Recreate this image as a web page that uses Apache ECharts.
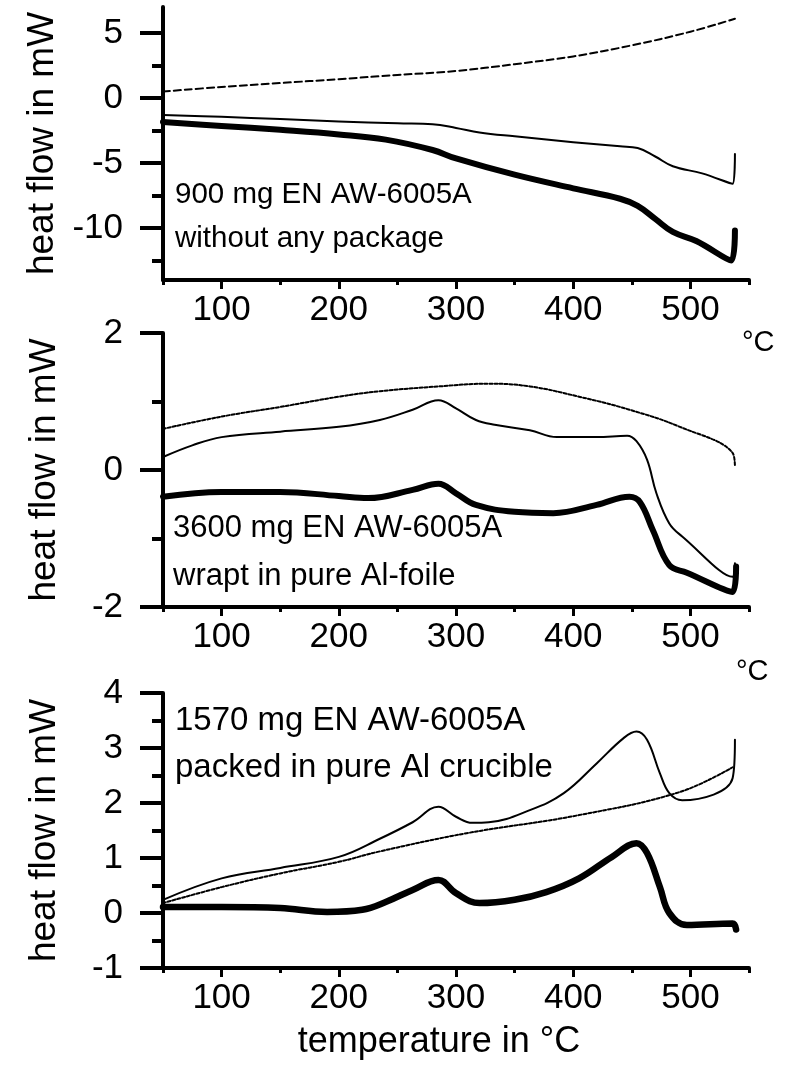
<!DOCTYPE html>
<html>
<head>
<meta charset="utf-8">
<script src="https://cdn.jsdelivr.net/npm/echarts@6/dist/echarts.min.js"></script>
<style>
html,body{margin:0;padding:0;background:#fff;}
#chart{width:785px;height:1070px;}
</style>
</head>
<body>
<div id="chart"></div>
<script>
// ---------- data (temperature °C, heat flow mW) ----------
const p1Dashed = [[50,0.5],[100,0.85],[150,1.15],[200,1.45],[250,1.77],[300,2.08],[350,2.6],[400,3.2],[450,4.05],[500,5.1],[538,6.1]];
const p1Thin = [[50,-1.3],[100,-1.45],[150,-1.62],[200,-1.8],[250,-1.95],[280,-2.02],[300,-2.3],[320,-2.65],[350,-2.95],[400,-3.4],[440,-3.72],[455,-3.85],[470,-4.5],[485,-5.25],[510,-5.8],[536,-6.6],[538,-4.3]];
const p1Thick = [[50,-1.85],[100,-2.15],[150,-2.45],[200,-2.8],[240,-3.2],[280,-4.0],[300,-4.65],[350,-5.9],[400,-6.95],[440,-7.75],[455,-8.3],[470,-9.3],[485,-10.3],[505,-11.0],[535,-12.5],[538,-10.2]];

const p2Dashed = [[50,0.6],[100,0.78],[150,0.92],[200,1.07],[235,1.15],[285,1.22],[328,1.26],[363,1.22],[405,1.07],[448,0.88],[491,0.63],[536,0.25],[538,0.05]];
const p2Thin = [[50,0.19],[75,0.36],[100,0.48],[150,0.56],[200,0.63],[235,0.73],[263,0.88],[285,1.02],[300,0.9],[317,0.73],[333,0.66],[363,0.58],[386,0.48],[420,0.48],[446,0.5],[454,0.42],[463,0.15],[471,-0.34],[482,-0.78],[493,-0.97],[536,-1.56],[538,-1.36]];
const p2Thick = [[50,-0.39],[100,-0.32],[150,-0.32],[200,-0.38],[225,-0.41],[263,-0.29],[285,-0.2],[300,-0.34],[317,-0.51],[350,-0.61],[383,-0.63],[420,-0.51],[448,-0.39],[457,-0.47],[468,-0.88],[482,-1.39],[497,-1.5],[536,-1.78],[539,-1.41]];

const p3Dashed = [[50,0.18],[100,0.47],[150,0.72],[200,0.93],[235,1.12],[309,1.45],[405,1.78],[491,2.2],[536,2.65]];
const p3Thin = [[50,0.24],[100,0.63],[150,0.82],[200,1.02],[235,1.35],[263,1.65],[285,1.93],[300,1.75],[314,1.64],[328,1.65],[363,1.87],[392,2.18],[420,2.72],[443,3.18],[454,3.3],[463,3.15],[474,2.54],[482,2.18],[493,2.05],[536,2.45],[538,3.15]];
const p3Thick = [[50,0.11],[100,0.11],[150,0.09],[190,0.02],[220,0.06],[240,0.2],[263,0.42],[285,0.6],[300,0.36],[320,0.18],[350,0.24],[377,0.38],[405,0.63],[433,1.02],[454,1.27],[463,1.09],[474,0.47],[482,0.0],[497,-0.22],[536,-0.19],[539,-0.3]];

// ---------- axes / labels ----------
const xMajor = [100,200,300,400,500];
const xMinor = [50,150,250,350,450,550];
const yRanges = [[-14,7],[-2,2],[-1,4]];
const yMajor = [[-10,-5,0,5],[-2,0,2],[-1,0,1,2,3,4]];
const yMinor = [[-12.5,-7.5,-2.5,2.5],[-1,1],[-0.5,0.5,1.5,2.5,3.5]];
const notes = [["900 mg EN AW-6005A","without any package"],["3600 mg EN AW-6005A","wrapt in pure Al-foile"],["1570 mg EN AW-6005A","packed in pure Al crucible"]];
const yTitle = "heat flow in mW";
const xTitle = "temperature in °C";
const unitLabel = "°C";

// ---------- layout ----------
const REG = "'Liberation Sans',Arial,sans-serif";
const grids = [
  {left:163, top:7, width:586, height:273},
  {left:163, top:333, width:586, height:274},
  {left:163, top:693, width:586, height:275}
];
const xAxes = [], yAxes = [];
grids.forEach((g, i) => {
  xAxes.push({
    type:'value', gridIndex:i, position:'bottom', min:50, max:550,
    axisLine:{show:true, onZero:false, lineStyle:{color:'#000', width:4}},
    axisTick:{show:true, customValues:xMajor, length:9, inside:false, lineStyle:{color:'#000', width:3}},
    axisLabel:{show:true, customValues:xMajor, margin:13, color:'#000', fontSize:35, fontFamily:REG},
    splitLine:{show:false},
    name: i === 2 ? xTitle : '',
    nameLocation:'middle', nameGap:56,
    nameTextStyle:{color:'#000', fontSize:36, fontFamily:REG, padding:[0,34,0,0]}
  });
  xAxes.push({
    type:'value', gridIndex:i, position:'bottom', offset:0, min:50, max:550,
    axisLine:{show:false, onZero:false},
    axisTick:{show:true, customValues:xMinor, length:5, lineStyle:{color:'#000', width:3}},
    axisLabel:{show:false}, splitLine:{show:false}
  });
  yAxes.push({
    type:'value', gridIndex:i, position:'left', min:yRanges[i][0], max:yRanges[i][1],
    axisLine:{show:true, onZero:false, lineStyle:{color:'#000', width:4}},
    axisTick:{show:true, customValues:yMajor[i], length:23, lineStyle:{color:'#000', width:4}},
    axisLabel:{show:true, customValues:yMajor[i], margin:40, color:'#000', fontSize:35, fontFamily:REG},
    splitLine:{show:false},
    name:yTitle, nameLocation:'middle', nameGap:100,
    nameTextStyle:{color:'#000', fontSize:37, fontFamily:REG}
  });
  yAxes.push({
    type:'value', gridIndex:i, position:'left', offset:0, min:yRanges[i][0], max:yRanges[i][1],
    axisLine:{show:false, onZero:false},
    axisTick:{show:true, customValues:yMinor[i], length:11, lineStyle:{color:'#000', width:4}},
    axisLabel:{show:false}, splitLine:{show:false}
  });
});

function line(data, idx, width, type) {
  return {
    type:'line', xAxisIndex:idx*2, yAxisIndex:idx*2, data:data,
    showSymbol:false, symbol:'none', smooth:0.4,
    lineStyle:{color:'#000', width:width, type:type, cap:'round', join:'round'},
    silent:true, animation:false, z:3
  };
}
const series = [
  line(p1Dashed,0,2,[7,4]), line(p1Thin,0,2,'solid'), line(p1Thick,0,6,'solid'),
  line(p2Dashed,1,2,[3,2]), line(p2Thin,1,2,'solid'), line(p2Thick,1,6,'solid'),
  line(p3Dashed,2,2,[3,2]), line(p3Thin,2,2,'solid'), line(p3Thick,2,6.5,'solid')
];

const noteStyle = [
  {x:175, y:[198,242], size:29.5},
  {x:173, y:[532,580], size:31},
  {x:175, y:[724,771], size:33}
];
const graphic = [];
notes.forEach((n, i) => {
  n.forEach((t, j) => {
    graphic.push({type:'text', left:noteStyle[i].x, top:noteStyle[i].y[j] - noteStyle[i].size*0.6, z:10,
      style:{text:t, fill:'#000', font: noteStyle[i].size + 'px ' + REG}});
  });
});
graphic.push({type:'text', left:742, top:328, style:{text:unitLabel, fill:'#000', font:'29px '+REG}});
graphic.push({type:'text', left:736, top:657, style:{text:unitLabel, fill:'#000', font:'29px '+REG}});

const chart = echarts.init(document.getElementById('chart'), null, {renderer:'canvas'});
chart.setOption({
  animation:false,
  backgroundColor:'#fff',
  grid:grids,
  xAxis:xAxes,
  yAxis:yAxes,
  series:series,
  graphic:graphic
});
</script>
</body>
</html>
